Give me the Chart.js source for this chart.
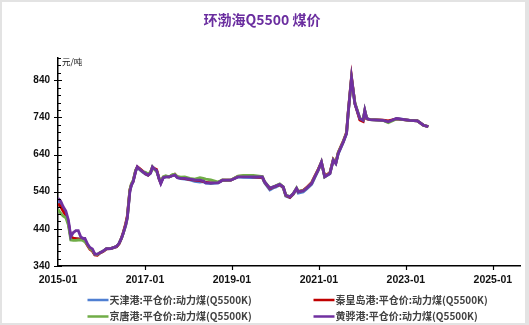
<!DOCTYPE html>
<html>
<head>
<meta charset="utf-8">
<script src="https://cdn.jsdelivr.net/npm/chart.js@4/dist/chart.umd.min.js"></script>
<style>
  html, body { margin: 0; padding: 0; background: #fff; }
  #wrap { width: 529px; height: 325px; position: relative; }
  canvas { display: block; }
</style>
</head>
<body>
<div id="wrap"><canvas id="c" width="529" height="325"></canvas></div>
<script>
// Weekly-sampled Bohai-Rim Q5500 thermal coal FOB prices (yuan/ton)
const dates = [
  '2015-01-02','2015-01-23','2015-02-13','2015-03-06','2015-03-27','2015-04-17','2015-05-08','2015-05-29',
  '2015-06-19','2015-07-10','2015-07-31','2015-08-14','2015-09-04','2015-09-25','2015-10-16','2015-11-06',
  '2015-11-27','2015-12-18','2016-01-15','2016-02-12','2016-03-18','2016-04-15','2016-05-06','2016-05-27',
  '2016-06-17','2016-07-01','2016-07-22','2016-08-05','2016-08-26','2016-09-09','2016-09-23','2016-10-14',
  '2016-10-28','2016-11-18','2016-12-09','2017-01-06','2017-01-27','2017-02-17','2017-03-03','2017-03-24',
  '2017-04-07','2017-04-28','2017-05-12','2017-06-02','2017-06-23','2017-07-21','2017-08-18','2017-09-08',
  '2017-09-29','2017-10-27','2017-12-01','2018-01-12','2018-02-23','2018-04-06','2018-05-04','2018-05-25',
  '2018-07-06','2018-09-07','2018-10-12','2018-12-21','2019-02-21','2019-04-05','2019-06-28','2019-09-13',
  '2019-10-01','2019-11-15','2019-12-13','2020-01-03','2020-02-07','2020-03-06','2020-03-27','2020-05-01',
  '2020-05-29','2020-06-26','2020-07-10','2020-08-21','2020-09-18','2020-11-01','2020-11-27','2020-12-25',
  '2021-01-22','2021-02-19','2021-04-02','2021-04-30','2021-05-21','2021-06-11','2021-07-23','2021-08-20',
  '2021-09-03','2021-10-01','2021-10-29','2021-12-10','2022-01-07','2022-01-21','2022-02-07','2022-03-04',
  '2022-06-24','2022-08-05','2022-10-14','2023-02-03','2023-04-07','2023-05-26','2023-07-07'
];

const tianjin = [
  515,508,494,480,458,415,414,413, 413,412,410,408,398,388,382,371,
  370,375,380,386,387,390,392,401, 415,428,452,472,542,558,567,595,
  606,600,593,587,584,590,605,600, 597,574,563,577,580,580,583,585,
  578,575,574,572,568,566,567,563, 562,564,570,571,580,579,578,578,
  564,545,550,552,558,550,528,524, 533,547,536,539,547,560,578,597,
  618,580,588,624,616,642,673,697, 748,845,776,736,732,758,737,734,
  732,728,737,732,731,719,715
];

const qinhuangdao = [
  508,500,488,476,455,418,415,414, 413,412,410,408,396,385,380,370,
  369,375,379,386,387,390,392,400, 416,430,455,475,545,560,568,597,
  607,602,596,588,585,592,606,602, 600,575,564,579,581,580,584,587,
  580,577,575,573,571,570,568,565, 564,565,571,571,581,582,580,579,
  566,548,552,555,559,552,530,525, 534,548,540,544,551,565,582,600,
  619,582,591,627,618,646,676,700, 752,849,778,733,729,757,736,734,
  733,731,736,732,731,719,715
];

const jingtang = [
  492,482,475,470,450,410,409,409, 410,410,408,405,398,387,382,372,
  371,376,380,387,387,390,393,401, 415,428,450,470,545,562,570,598,
  605,600,594,592,588,593,607,598, 596,577,566,580,583,580,586,587,
  581,579,580,576,574,578,576,574, 572,566,572,571,582,584,584,581,
  567,550,553,556,561,553,531,527, 535,550,541,543,549,563,580,598,
  620,580,590,626,617,645,675,698, 750,845,780,738,733,759,737,734,
  732,726,736,732,731,719,715
];

const huanghua = [
  522,515,500,488,464,419,430,435, 435,418,414,414,400,390,386,372,
  372,376,380,387,387,390,393,401, 415,428,450,470,540,558,567,595,
  607,600,595,589,585,590,607,600, 598,575,562,578,580,580,583,585,
  578,576,576,574,572,571,569,564, 564,564,571,571,580,580,580,580,
  567,549,553,555,560,553,531,526, 535,549,540,542,549,562,580,598,
  620,580,589,625,616,643,674,697, 750,847,777,737,732,759,737,734,
  732,728,737,732,731,719,715
];

const seriesNames = [
  '天津港:平仓价:动力煤(Q5500K)',
  '秦皇岛港:平仓价:动力煤(Q5500K)',
  '京唐港:平仓价:动力煤(Q5500K)',
  '黄骅港:平仓价:动力煤(Q5500K)'
];
const seriesColors = ['#4f7fd2', '#c00000', '#70ad47', '#7030a0'];
const seriesValues = [tianjin, qinhuangdao, jingtang, huanghua];

const xTickLabels = ['2015-01','2017-01','2019-01','2021-01','2023-01','2025-01'];
const yTickValues = [340, 440, 540, 640, 740, 840];

// months elapsed since 2015-01-01
function monthIndex(s) {
  const [y, m, d] = s.split('-').map(Number);
  return (y - 2015) * 12 + (m - 1) + (d - 1) / 30;
}
const xTickValues = xTickLabels.map(l => monthIndex(l + '-01'));
const labelByMonth = {};
xTickLabels.forEach((l, i) => { labelByMonth[xTickValues[i]] = l; });

const datasets = seriesValues.map((vals, i) => ({
  label: seriesNames[i],
  data: dates.map((d, k) => ({ x: monthIndex(d), y: vals[k] })),
  borderColor: seriesColors[i],
  backgroundColor: seriesColors[i],
  borderWidth: 2.8,
  pointRadius: 0,
  tension: 0,
  order: seriesValues.length - i
}));

const CJK = '"Noto Sans CJK SC", "Liberation Sans", sans-serif';
const LAT = '"Liberation Sans", Arial, sans-serif';

const decor = {
  id: 'decor',
  beforeDraw(chart) {
    const c = chart.ctx;
    c.save();
    c.fillStyle = '#e3e3e3';
    c.fillRect(0, 0, chart.width, chart.height);
    c.fillStyle = '#ffffff';
    c.fillRect(2, 2, chart.width - 6, chart.height - 4);
    c.restore();
  },
  afterDraw(chart) {
    const c = chart.ctx;
    const xs = chart.scales.x, ys = chart.scales.y;
    const left = chart.chartArea.left, bottom = chart.chartArea.bottom;
    c.save();
    // axis tick marks
    c.strokeStyle = '#000';
    c.lineWidth = 1.2;
    c.beginPath();
    for (let v = 340; v <= 900; v += 20) {
      const y = Math.round(ys.getPixelForValue(v)) + 0.5;
      if (yTickValues.includes(v)) { c.moveTo(left - 4, y); c.lineTo(left + 4, y); }
      else { c.moveTo(left, y); c.lineTo(left + 3, y); }
    }
    xTickValues.forEach(v => {
      if (v === 0) return;
      const x = Math.round(xs.getPixelForValue(v)) + 0.5;
      c.moveTo(x, bottom); c.lineTo(x, bottom + 4);
    });
    c.stroke();

    // title
    c.fillStyle = '#6a2d9f';
    c.font = 'bold 14px ' + CJK;
    c.textAlign = 'center';
    c.textBaseline = 'middle';
    c.fillText('环渤海Q5500 煤价', 262, 20);

    // unit
    c.fillStyle = '#111';
    c.font = '8.5px ' + CJK;
    c.textAlign = 'left';
    c.fillText('元/吨', 62, 62);

    // legend
    const pos = [[87.5, 300], [313.5, 300], [87.5, 316.5], [313.5, 316.5]];
    c.font = 'bold 10px ' + CJK;
    c.textBaseline = 'middle';
    seriesNames.forEach((name, i) => {
      const [lx, ly] = pos[i];
      c.strokeStyle = seriesColors[i];
      c.lineWidth = 2.5;
      c.beginPath();
      c.moveTo(lx, ly); c.lineTo(lx + 21, ly);
      c.stroke();
      c.fillStyle = '#404040';
      c.fillText(name, lx + 22, ly);
    });
    c.restore();
  }
};

new Chart(document.getElementById('c'), {
  type: 'line',
  data: { datasets },
  options: {
    responsive: false,
    animation: false,
    events: [],
    layout: { padding: { left: 0, right: 9, top: 58, bottom: 37 } },
    plugins: { legend: { display: false }, title: { display: false }, tooltip: { enabled: false } },
    scales: {
      x: {
        type: 'linear',
        min: 0,
        max: 127.5,
        afterBuildTicks: s => { s.ticks = xTickValues.map(v => ({ value: v })); },
        afterFit: s => { s.height = 22; },
        grid: { display: false, drawTicks: false },
        border: { display: true, color: '#000', width: 1.5 },
        ticks: {
          autoSkip: false, maxRotation: 0, padding: 8,
          color: '#111',
          font: { family: LAT, size: 10.5, weight: 'bold' },
          callback: v => labelByMonth[v] || ''
        }
      },
      y: {
        min: 340,
        max: 900,
        afterBuildTicks: s => { s.ticks = yTickValues.map(v => ({ value: v })); },
        afterFit: s => { s.width = 58; },
        grid: { display: false, drawTicks: false },
        border: { display: true, color: '#000', width: 1.5 },
        ticks: {
          padding: 8,
          color: '#111',
          font: { family: LAT, size: 10, weight: 'bold' },
          callback: v => String(v)
        }
      }
    }
  },
  plugins: [decor]
});
</script>
</body>
</html>
